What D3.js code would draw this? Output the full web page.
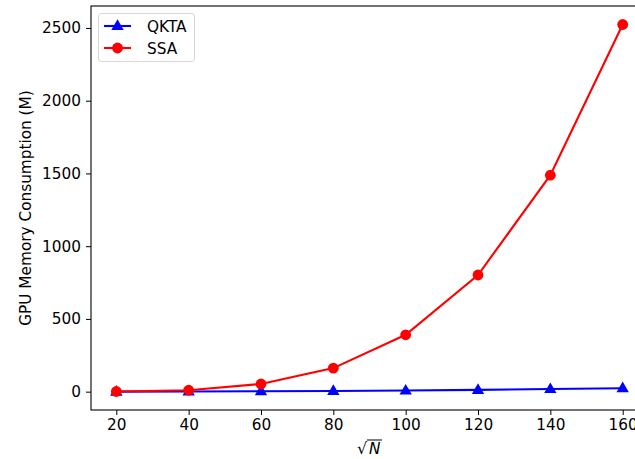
<!DOCTYPE html>
<html><head><meta charset="utf-8">
<script src="https://cdn.jsdelivr.net/npm/d3@7/dist/d3.min.js"></script>
<style>body{margin:0;background:#fff;}svg{display:block;font-family:"DejaVu Sans",sans-serif;}</style>
</head><body>
<svg id="c" width="635" height="459"></svg>
<script>
const xValues = [20, 40, 60, 80, 100, 120, 140, 160];
const qktaValues = [0.5, 1, 3, 5, 8, 12, 18, 24];
const ssaValues = [1, 10, 53, 162, 391, 802, 1488, 2524];
const xTicks = [20, 40, 60, 80, 100, 120, 140, 160];
const yTicks = [0, 500, 1000, 1500, 2000, 2500];
const seriesNames = ["QKTA", "SSA"];

const svg = d3.select("#c");
const L = 91, T = 6, B = 410, R = 648;
const x = d3.scaleLinear().domain([13, 167]).range([L, R]);
const y = d3.scaleLinear().domain([-126, 2651]).range([B, T]);

const fs = 15.3;
const gx = svg.append("g").attr("transform", `translate(0,${B})`)
  .call(d3.axisBottom(x).tickValues(xTicks).tickFormat(d3.format("d")).tickSizeOuter(0).tickSize(5).tickPadding(4));
const gy = svg.append("g").attr("transform", `translate(${L},0)`)
  .call(d3.axisLeft(y).tickValues(yTicks).tickFormat(d3.format("d")).tickSizeOuter(0).tickSize(5).tickPadding(5));
[gx, gy].forEach(g => {
  g.attr("font-size", fs).attr("font-family", "DejaVu Sans");
  g.select(".domain").remove();
  g.selectAll("text").attr("fill", "#000");
  g.selectAll("line").attr("stroke", "#000").attr("stroke-width", 1);
});
// spines
svg.append("rect").attr("x", L).attr("y", T).attr("width", R - L).attr("height", B - T)
  .attr("fill", "none").attr("stroke", "#000").attr("stroke-width", 1.1);

const line = d3.line().x((d, i) => x(xValues[i])).y(d => y(d));
svg.append("path").datum(qktaValues).attr("d", line).attr("fill", "none").attr("stroke", "#0000ff").attr("stroke-width", 2.1);
svg.append("path").datum(ssaValues).attr("d", line).attr("fill", "none").attr("stroke", "#ff0000").attr("stroke-width", 2.1);

const tri = d3.symbol().type(d3.symbolTriangle).size(66);
svg.selectAll(".q").data(qktaValues).enter().append("path")
  .attr("transform", (d, i) => `translate(${x(xValues[i])},${y(d) + 0.5})`)
  .attr("d", tri).attr("fill", "#0000ff");
svg.selectAll(".s").data(ssaValues).enter().append("circle")
  .attr("cx", (d, i) => x(xValues[i])).attr("cy", d => y(d)).attr("r", 5.4).attr("fill", "#ff0000");

// legend
const lg = svg.append("g");
lg.append("rect").attr("x", 98.5).attr("y", 13.5).attr("width", 96).attr("height", 48).attr("rx", 3)
  .attr("fill", "#fff").attr("fill-opacity", 0.8).attr("stroke", "#d6d6d6");
const colors = ["#0000ff", "#ff0000"];
seriesNames.forEach((n, i) => {
  const yy = 26 + i * 22;
  lg.append("line").attr("x1", 104).attr("x2", 131).attr("y1", yy).attr("y2", yy).attr("stroke", colors[i]).attr("stroke-width", 2.1);
  if (i === 0) lg.append("path").attr("transform", `translate(117.5,${yy + 0.5})`).attr("d", tri).attr("fill", colors[i]);
  else lg.append("circle").attr("cx", 117.5).attr("cy", yy).attr("r", 5.4).attr("fill", colors[i]);
  lg.append("text").attr("x", 147).attr("y", yy + 5.5).attr("font-size", fs).text(n);
});

// axis labels
svg.append("text").attr("transform", "translate(31,208) rotate(-90)").attr("text-anchor", "middle")
  .attr("font-size", fs).text("GPU Memory Consumption (M)");
const xl = svg.append("g");
xl.append("text").attr("x", 357).attr("y", 454).attr("font-size", 16).text("\u221A");
xl.append("text").attr("x", 369).attr("y", 454).attr("font-size", fs).attr("font-style", "italic").text("N");
xl.append("line").attr("x1", 367).attr("x2", 382).attr("y1", 440).attr("y2", 440).attr("stroke", "#000").attr("stroke-width", 1);
</script>
</body></html>
